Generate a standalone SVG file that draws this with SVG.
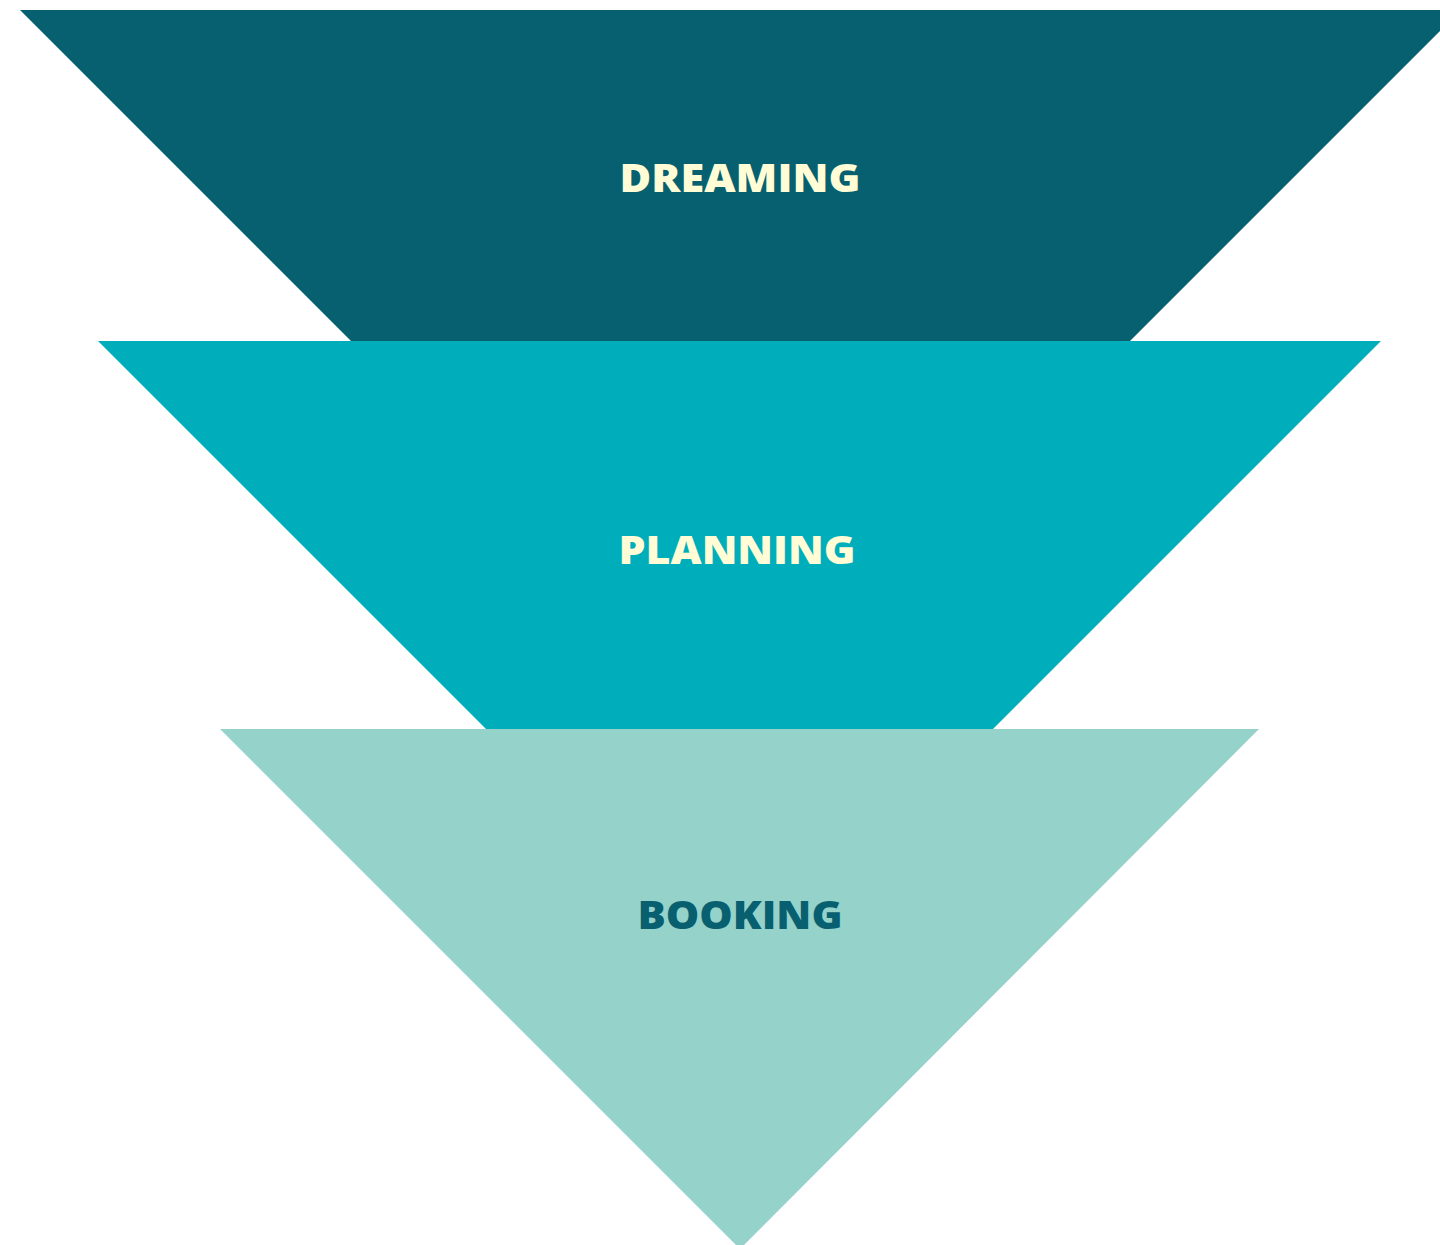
<svg xmlns="http://www.w3.org/2000/svg" width="1440" height="1245" viewBox="0 0 1440 1245">
<style>
.lbl{font-family:"Open Sans","Liberation Sans",sans-serif;font-weight:800;font-size:38px;text-anchor:middle}
.light{fill:#FFFCD6}
.dark{fill:#075F70}
</style>
<rect width="1440" height="1245" fill="#FFFFFF"/>
<g id="dreaming">
<polygon points="20,10 1461,10 1130,341 351,341" fill="#066070"/>
<text class="lbl light" x="740" y="192" textLength="241" lengthAdjust="spacingAndGlyphs">DREAMING</text>
</g>
<g id="planning">
<polygon points="98,341 1381,341 993,729 486,729" fill="#00ADBB"/>
<text class="lbl light" x="737" y="564" textLength="237" lengthAdjust="spacingAndGlyphs">PLANNING</text>
</g>
<g id="booking">
<polygon points="220,729 1259,729 740,1249" fill="#94D2CA"/>
<text class="lbl dark" x="740" y="929" textLength="205" lengthAdjust="spacingAndGlyphs">BOOKING</text>
</g>
<g id="connectors"></g>
</svg>
